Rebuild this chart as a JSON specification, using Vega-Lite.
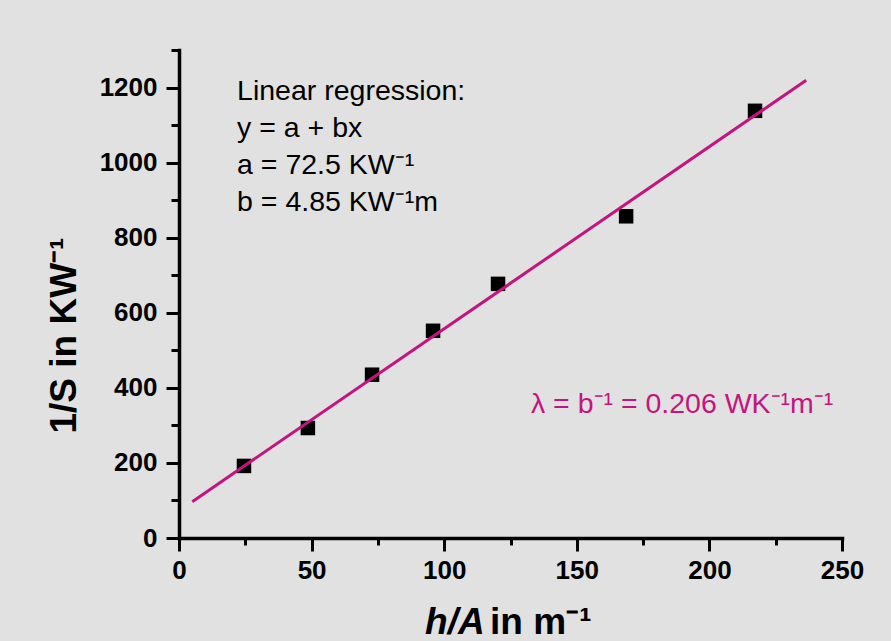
{
  "$schema": "https://vega.github.io/schema/vega-lite/v6.json",
  "width": 663,
  "height": 488,
  "autosize": {"type": "none"},
  "padding": {"left": 179, "top": 50, "right": 49, "bottom": 103},
  "background": "#e1e1e1",
  "config": {
    "view": {"stroke": null},
    "font": "Liberation Sans",
    "axis": {
      "grid": false,
      "domainColor": "black",
      "domainWidth": 3.5,
      "domainCap": "square",
      "tickColor": "black",
      "tickWidth": 3,
      "labelFont": "Liberation Sans",
      "labelFontWeight": "bold",
      "labelFontSize": 26,
      "labelColor": "black",
      "labelOverlap": false,
      "labelFlush": false,
      "labelBound": false
    }
  },
  "resolve": {"axis": {"x": "independent", "y": "independent"}},
  "datasets": {
    "pts": [
      {"x": 24.5, "y": 192},
      {"x": 48.6, "y": 293},
      {"x": 72.8, "y": 435},
      {"x": 95.8, "y": 552},
      {"x": 120.3, "y": 677},
      {"x": 168.6, "y": 857},
      {"x": 217.2, "y": 1138}
    ],
    "fit": [
      {"x": 5, "y": 96.75},
      {"x": 236.5, "y": 1219.5}
    ]
  },
  "layer": [
    {
      "data": {"name": "pts"},
      "mark": {"type": "square", "size": 210, "filled": true, "color": "black", "opacity": 1},
      "encoding": {
        "x": {
          "field": "x", "type": "quantitative",
          "scale": {"domain": [0, 250], "nice": false, "zero": false},
          "axis": {
            "title": null,
            "values": [0, 25, 50, 75, 100, 125, 150, 175, 200, 225, 250],
            "labelExpr": "datum.value % 50 === 0 ? datum.label : ''",
            "format": "d",
            "tickSize": {"condition": {"test": "datum.value % 50 === 0", "value": 13}, "value": 7},
            "labelPadding": 6
          }
        },
        "y": {
          "field": "y", "type": "quantitative",
          "scale": {"domain": [0, 1300], "nice": false, "zero": false},
          "axis": {
            "values": [0, 100, 200, 300, 400, 500, 600, 700, 800, 900, 1000, 1100, 1200, 1300],
            "labelExpr": "datum.value % 200 === 0 ? datum.label : ''",
            "format": "d",
            "tickSize": {"condition": {"test": "datum.value % 200 === 0", "value": 13}, "value": 8},
            "labelPadding": 9,
            "title": "1/S in KW⁻¹",
            "titleFont": "Liberation Sans",
            "titleFontWeight": "bold",
            "titleFontSize": 37,
            "titleColor": "black",
            "titleAngle": -90,
            "titleAlign": "left",
            "titleBaseline": "alphabetic",
            "titleX": -104,
            "titleY": 383
          }
        }
      }
    },
    {
      "data": {"name": "fit"},
      "mark": {"type": "line", "color": "#c4157f", "strokeWidth": 3},
      "encoding": {
        "x": {"field": "x", "type": "quantitative", "axis": null},
        "y": {"field": "y", "type": "quantitative", "axis": null}
      }
    },
    {
      "data": {"values": [{}]},
      "mark": {
        "type": "text",
        "text": ["Linear regression:", "y = a + bx", "a = 72.5 KW⁻¹", "b = 4.85 KW⁻¹m"],
        "font": "Liberation Sans",
        "fontSize": 28.5,
        "lineHeight": 37,
        "align": "left",
        "baseline": "alphabetic",
        "color": "black"
      },
      "encoding": {
        "x": {"datum": 21.9, "type": "quantitative", "axis": null},
        "y": {"datum": 1168, "type": "quantitative", "axis": null}
      }
    },
    {
      "data": {"values": [{}]},
      "mark": {
        "type": "text",
        "text": "λ = b⁻¹ = 0.206 WK⁻¹m⁻¹",
        "font": "Liberation Sans",
        "fontSize": 28.5,
        "align": "left",
        "baseline": "alphabetic",
        "color": "#c4157f"
      },
      "encoding": {
        "x": {"datum": 132.7, "type": "quantitative", "axis": null},
        "y": {"datum": 333, "type": "quantitative", "axis": null}
      }
    },
    {
      "data": {"values": [{}]},
      "mark": {
        "type": "text",
        "text": "h/A",
        "font": "Liberation Sans",
        "fontSize": 37,
        "fontWeight": "bold",
        "fontStyle": "italic",
        "align": "left",
        "baseline": "alphabetic",
        "color": "black"
      },
      "encoding": {
        "x": {"datum": 92.8, "type": "quantitative", "axis": null},
        "y": {"datum": -255, "type": "quantitative", "axis": null}
      }
    },
    {
      "data": {"values": [{}]},
      "mark": {
        "type": "text",
        "text": "in m⁻¹",
        "font": "Liberation Sans",
        "fontSize": 37,
        "fontWeight": "bold",
        "align": "left",
        "baseline": "alphabetic",
        "color": "black"
      },
      "encoding": {
        "x": {"datum": 117.3, "type": "quantitative", "axis": null},
        "y": {"datum": -255, "type": "quantitative", "axis": null}
      }
    }
  ]
}
